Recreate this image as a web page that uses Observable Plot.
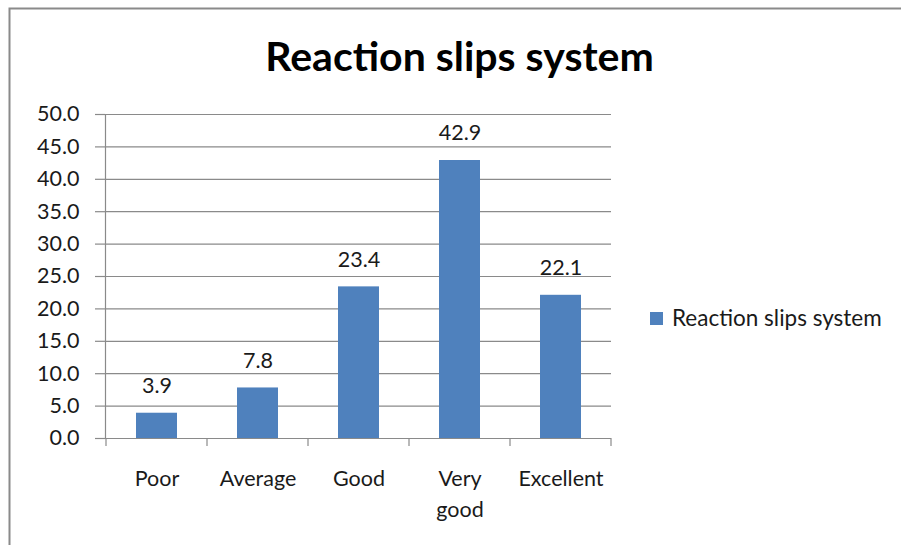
<!DOCTYPE html>
<html>
<head>
<meta charset="utf-8">
<script src="https://cdn.jsdelivr.net/npm/d3@7"></script>
<script src="https://cdn.jsdelivr.net/npm/@observablehq/plot@0.6"></script>
<style>
  html, body { margin: 0; padding: 0; background: #fff; }
  #chart { position: relative; width: 901px; height: 545px; overflow: hidden; }
</style>
</head>
<body>
<div id="chart"></div>
<script>
const title = "Reaction slips system";
const seriesName = "Reaction slips system";
const categories = ["Poor", "Average", "Good", "Very good", "Excellent"];
const values = [3.9, 7.8, 23.4, 42.9, 22.1];
const yTicks = [0, 5, 10, 15, 20, 25, 30, 35, 40, 45, 50];
const catLabels = ["Poor", "Average", "Good", "Very\ngood", "Excellent"];

const data = categories.map((c, i) => ({cat: c, value: values[i], label: catLabels[i]}));
const FONT = "Lato, 'Noto Sans', sans-serif";
const BAR = "#4F81BD";
const GRID = "#8a8a8a";
const TEXT = "#1a1a1a";

const chart = Plot.plot({
  width: 901,
  height: 545,
  marginLeft: 105,
  marginRight: 290,
  marginTop: 114,
  marginBottom: 107,
  style: {fontFamily: FONT, background: "transparent", overflow: "visible"},
  x: {type: "band", domain: categories, padding: 0, axis: null},
  y: {domain: [0, 50], axis: null},
  marks: [
    Plot.ruleY(yTicks, {stroke: GRID, strokeWidth: 1.2}),
    Plot.axisY({ticks: yTicks, tickSize: 10, tickPadding: 16, tickFormat: d => d.toFixed(1),
      label: null, fontSize: 21.5, stroke: GRID, fill: TEXT, strokeWidth: 1.2}),
    Plot.frame({anchor: "left", stroke: GRID, strokeWidth: 1.2}),
    Plot.barY(data, {x: "cat", y: "value", fill: BAR, insetLeft: 30, insetRight: 30}),
    Plot.text(data, {x: "cat", y: "value", text: d => d.value.toFixed(1), dy: -27,
      fontSize: 21.5, fill: TEXT}),
    Plot.text(data, {x: "cat", y: () => 0, text: "label", dy: 26, lineAnchor: "top",
      lineHeight: 1.43, fontSize: 21.5, fill: TEXT})
  ]
});

const svg = d3.select(chart);
const xs = chart.scale("x");
const ys = chart.scale("y");
const y0 = ys.apply(0);
const bw = xs.bandwidth;
const bounds = categories.map(c => xs.apply(c)).concat([xs.apply(categories[categories.length - 1]) + bw]);
svg.append("g").selectAll("line").data(bounds).join("line")
  .attr("x1", d => d).attr("x2", d => d)
  .attr("y1", y0).attr("y2", y0 + 8)
  .attr("stroke", GRID).attr("stroke-width", 1.2);

// title
svg.append("text")
  .attr("x", 459.5).attr("y", 71)
  .attr("text-anchor", "middle")
  .attr("font-family", FONT).attr("font-weight", "bold").attr("font-size", 41)
  .attr("fill", "#000")
  .text(title);

// legend
const lg = svg.append("g");
lg.append("rect").attr("x", 650).attr("y", 312).attr("width", 13).attr("height", 13).attr("fill", BAR);
lg.append("text").attr("x", 672).attr("y", 318.5).attr("dy", "0.35em")
  .attr("text-anchor", "start")
  .attr("font-family", FONT).attr("font-size", 22.5).attr("fill", TEXT)
  .text(seriesName);

// border
svg.append("rect").attr("x", 9.5).attr("y", 8.5).attr("width", 1000).attr("height", 1000)
  .attr("fill", "none").attr("stroke", "#8a8a8a").attr("stroke-width", 2);

document.getElementById("chart").appendChild(chart);
</script>
</body>
</html>
